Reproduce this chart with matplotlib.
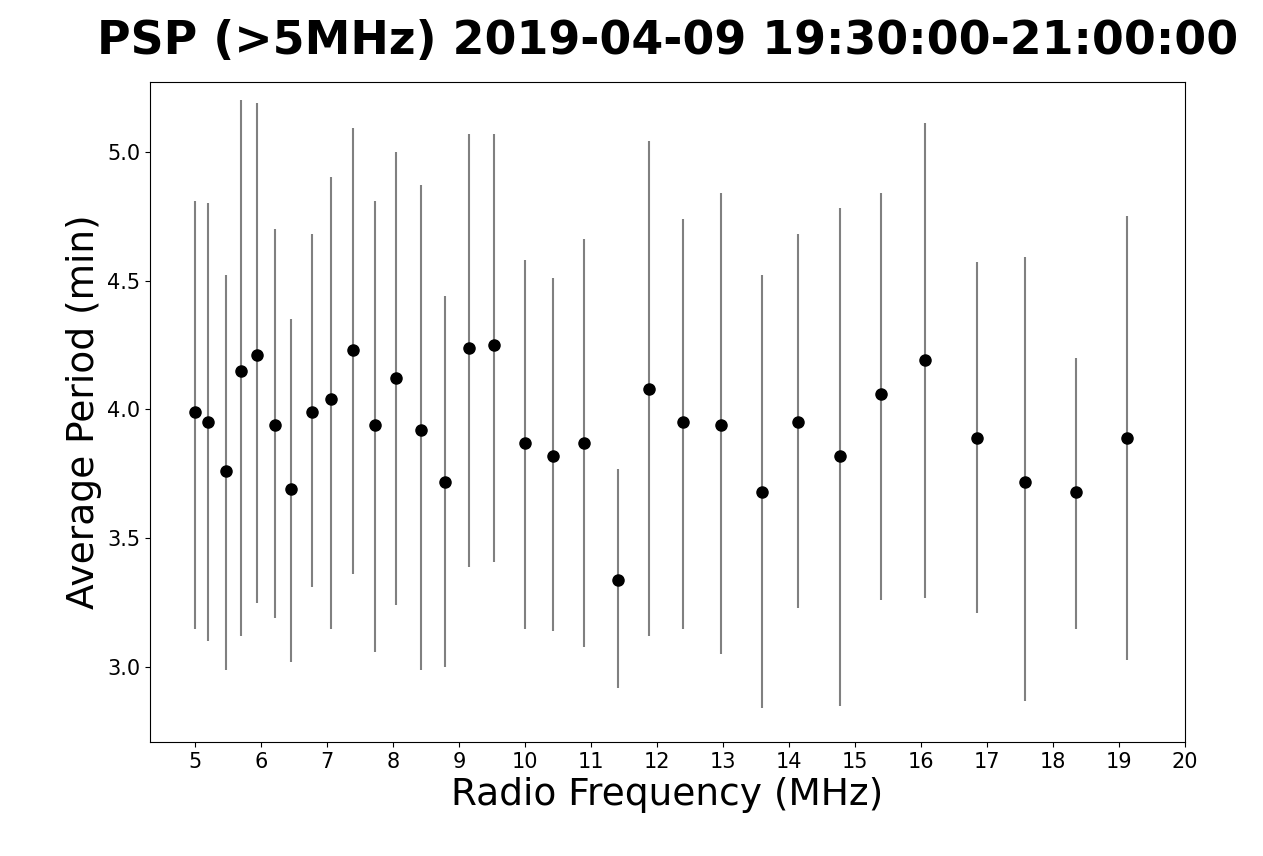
import matplotlib.pyplot as plt
import numpy as np

freq = [5.0, 5.2, 5.47, 5.7, 5.94, 6.21, 6.45, 6.77, 7.06, 7.39, 7.73, 8.05,
        8.42, 8.79, 9.15, 9.53, 10.0, 10.42, 10.89, 11.41, 11.88, 12.39, 12.97,
        13.59, 14.14, 14.77, 15.39, 16.06, 16.85, 17.58, 18.35, 19.12]
period = [3.99, 3.95, 3.76, 4.15, 4.21, 3.94, 3.69, 3.99, 4.04, 4.23, 3.94, 4.12,
          3.92, 3.72, 4.24, 4.25, 3.87, 3.82, 3.87, 3.34, 4.08, 3.95, 3.94,
          3.68, 3.95, 3.82, 4.06, 4.19, 3.89, 3.72, 3.68, 3.89]
upper = [4.81, 4.80, 4.52, 5.20, 5.19, 4.70, 4.35, 4.68, 4.90, 5.09, 4.81, 5.00,
         4.87, 4.44, 5.07, 5.07, 4.58, 4.51, 4.66, 3.77, 5.04, 4.74, 4.84,
         4.52, 4.68, 4.78, 4.84, 5.11, 4.57, 4.59, 4.20, 4.75]
lower = [3.15, 3.10, 2.99, 3.12, 3.25, 3.19, 3.02, 3.31, 3.15, 3.36, 3.06, 3.24,
         2.99, 3.00, 3.39, 3.41, 3.15, 3.14, 3.08, 2.92, 3.12, 3.15, 3.05,
         2.84, 3.23, 2.85, 3.26, 3.27, 3.21, 2.87, 3.15, 3.03]

period = np.array(period)
yerr = [period - np.array(lower), np.array(upper) - period]

fig = plt.figure(figsize=(12.63, 8.56), dpi=100)
ax = fig.add_axes([150/1263, 1 - 742/856, 1035/1263, 660/856])
ax.errorbar(freq, period, yerr=yerr, fmt='o', color='black', ecolor='gray',
            elinewidth=1.5, markersize=8)
ax.set_xlim(4.32, 20.0)
ax.set_ylim(2.71, 5.27)
ax.set_xticks(range(5, 21))
ax.set_yticks([3.0, 3.5, 4.0, 4.5, 5.0])
ax.tick_params(labelsize=15)
ax.set_xlabel('Radio Frequency (MHz)', fontsize=27)
ax.set_ylabel('Average Period (min)', fontsize=27)
ax.set_title('PSP (>5MHz) 2019-04-09 19:30:00-21:00:00', fontsize=33,
             fontweight='bold', pad=20)
fig.savefig('out.png', dpi=100)
